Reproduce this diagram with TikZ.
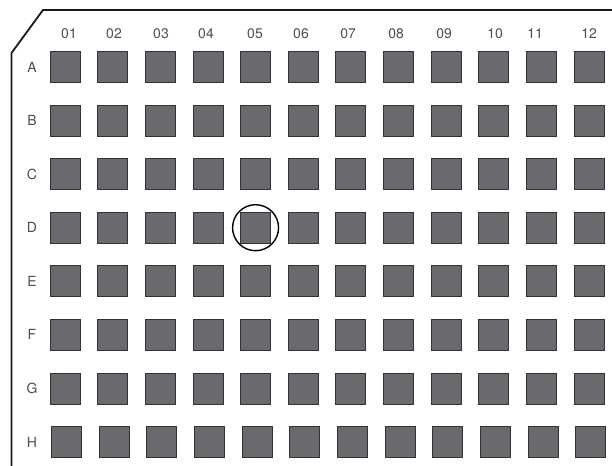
\documentclass[tikz,border=0pt]{standalone}
\usepackage{fontspec}
\setmainfont{TeX Gyre Heros}
\begin{document}
\begin{tikzpicture}[x=1bp,y=-1bp,
  well/.style={draw=black!80,line width=0.8bp,fill=wellgray,minimum width=30bp,minimum height=31bp,inner sep=0pt,outer sep=0pt},
  lbl/.style={text=black!70,font=\fontsize{14}{16}\selectfont,inner sep=0pt},
  plate/.style={line width=1.8bp,draw=black!90}]
\definecolor{wellgray}{HTML}{696A6D}
\useasboundingbox (0,0) rectangle (612,466);
\draw[plate] (612,10) -- (43,10) -- (11.5,53) -- (11.5,466);
\foreach \c/\lx in {1/69,2/114,3/161,4/206,5/255,6/301,7/348,8/396,9/444,10/495,11/535,12/589}{
  \pgfmathsetmacro{\cn}{\c<10 ? "0\c" : "\c"}
  \node[lbl] (col\c) at (\lx,34) {\cn};
}
\foreach \r/\L in {1/A,2/B,3/C,4/D,5/E,6/F,7/G,8/H}{
  \pgfmathsetmacro{\yy}{67+(\r-1)*53.57}
  \pgfmathsetmacro{\dx}{\r==8 ? 1.5 : 0}
  \node[lbl] (row\L) at (32,\yy) {\L};
  \foreach \c in {1,...,12}{
    \node[well] (s\L\c) at ({65+(\c-1)*47.64+\dx},\yy) {};
  }
}
\node[draw=black,line width=1.4bp,circle,minimum size=46bp,inner sep=0pt] (mark) at (sD5) {};
\end{tikzpicture}
\end{document}
